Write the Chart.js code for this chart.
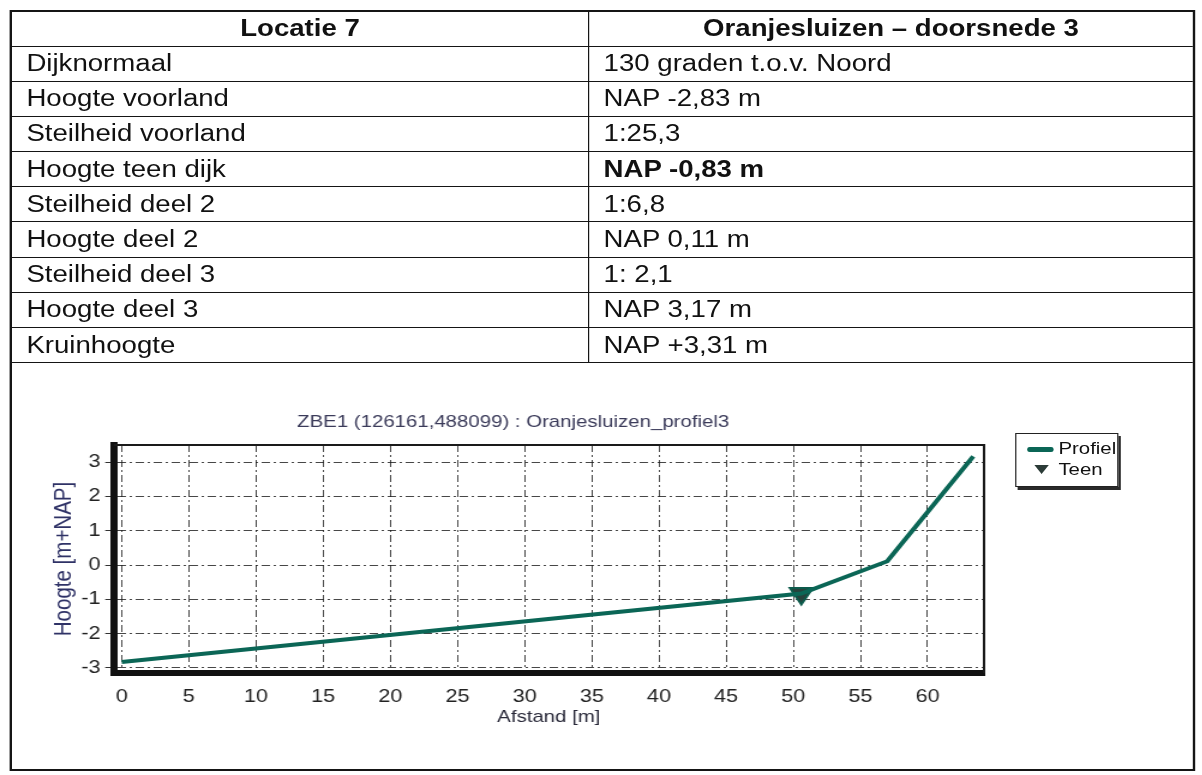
<!DOCTYPE html>
<html>
<head>
<meta charset="utf-8">
<script src="https://cdn.jsdelivr.net/npm/chart.js@4"></script>
<style>
  body { margin: 0; background: #fff; }
  /* the sheet is laid out narrow and stretched sideways like the printed page */
  #page {
    position: relative; width: 1001.7px; height: 775px;
    transform: scaleX(1.2); transform-origin: 0 0;
    font-family: "Liberation Sans", Arial, sans-serif; color: #111;
  }
  #frame {
    position: absolute; left: 8px; top: 10px; width: 988px; height: 761px;
    border: 2px solid #151515; box-sizing: border-box;
  }
  .row { display: flex; height: 35.2px; border-bottom: 1.5px solid #151515; box-sizing: border-box; font-size: 23px; }
  .row.head { height: 34.5px; font-weight: bold; }
  .cell { display: flex; align-items: center; box-sizing: border-box; padding-left: 12px; }
  .cell.c1 { width: 481px; border-right: 1.5px solid #151515; }
  .cell.c2 { flex: 1; }
  .head .cell { justify-content: center; padding-left: 0; }
  .bold { font-weight: bold; }
  #chartBox { position: absolute; left: 33.3px; top: 405px; width: 800px; height: 328px; }
  #legend {
    position: absolute; left: 846px; top: 433px; width: 86px; height: 54px;
    border: 1px solid #222; background: #fff; box-shadow: 2px 3px 0 #2a2a2a;
    font-size: 17px; box-sizing: border-box;
  }
  #legend .swatch { position: absolute; left: 9px; top: 13px; width: 22px; height: 5px; background: #0b6656; border-radius: 2px; }
  #legend .tri { position: absolute; left: 15px; top: 31px; width: 0; height: 0;
    border-left: 6px solid transparent; border-right: 6px solid transparent; border-top: 9px solid #2b3b37; }
  #legend .lbl { position: absolute; left: 35px; line-height: 20px; }
</style>
</head>
<body>
<div id="page">
  <div id="frame">
    <div class="row head"><div class="cell c1">Locatie 7</div><div class="cell c2">Oranjesluizen – doorsnede 3</div></div>
    <div id="rows"></div>
  </div>
  <div id="chartBox"><canvas id="profielChart"></canvas></div>
  <div id="legend">
    <div class="swatch"></div><div class="lbl" style="top:5px">Profiel</div>
    <div class="tri"></div><div class="lbl" style="top:26px">Teen</div>
  </div>
</div>

<script>
// Table contents
const rijLabels = ['Dijknormaal', 'Hoogte voorland', 'Steilheid voorland', 'Hoogte teen dijk',
  'Steilheid deel 2', 'Hoogte deel 2', 'Steilheid deel 3', 'Hoogte deel 3', 'Kruinhoogte'];
const rijWaarden = ['130 graden t.o.v. Noord', 'NAP -2,83 m', '1:25,3', 'NAP -0,83 m',
  '1:6,8', 'NAP 0,11 m', '1: 2,1', 'NAP 3,17 m', 'NAP +3,31 m'];
const vetRij = 3;

// Profile (distance in m, height in m+NAP)
const afstand = [0, 50.6, 57.0, 63.4];
const hoogte = [-2.83, -0.83, 0.11, 3.17];
const teenAfstand = [50.6];
const teenHoogte = [-0.83];

// Axis ticks
const afstandTicks = [0, 5, 10, 15, 20, 25, 30, 35, 40, 45, 50, 55, 60];
const hoogteTicks = [-3, -2, -1, 0, 1, 2, 3];

document.addEventListener('DOMContentLoaded', function() {
    buildTable();
    initializeProfileChart();
});

function buildTable() {
    const rows = document.getElementById('rows');
    rijLabels.forEach((label, i) => {
        const row = document.createElement('div');
        row.className = 'row';
        const c1 = document.createElement('div');
        c1.className = 'cell c1';
        c1.textContent = label;
        const c2 = document.createElement('div');
        c2.className = 'cell c2' + (i === vetRij ? ' bold' : '');
        c2.textContent = rijWaarden[i];
        row.appendChild(c1);
        row.appendChild(c2);
        rows.appendChild(row);
    });
}

// thin frame on the top and right side of the plot
const plotFrame = {
    id: 'plotFrame',
    afterDatasetsDraw(chart) {
        const {ctx, chartArea: a} = chart;
        ctx.save();
        ctx.strokeStyle = '#1a1a1a';
        ctx.lineWidth = 2;
        ctx.beginPath();
        ctx.moveTo(a.left, a.top);
        ctx.lineTo(a.right, a.top);
        ctx.lineTo(a.right, a.bottom);
        ctx.stroke();
        ctx.restore();
    }
};

function initializeProfileChart() {
    Chart.defaults.font.family = '"Liberation Sans", Arial, sans-serif';
    const ctx = document.getElementById('profielChart').getContext('2d');
    // dash-dot grid, thick axis line on the left and bottom
    const gridDash = [7, 3, 2, 3];
    const gridColor = 'rgba(25, 25, 25, 0.8)';

    new Chart(ctx, {
        type: 'line',
        data: {
            datasets: [{
                label: 'Profiel',
                data: afstand.map((x, i) => ({x: x, y: hoogte[i]})),
                borderColor: '#0b6656',
                borderWidth: 4,
                pointRadius: 0,
                fill: false,
                tension: 0
            }, {
                label: 'Teen',
                data: teenAfstand.map((x, i) => ({x: x, y: teenHoogte[i]})),
                showLine: false,
                pointStyle: 'triangle',
                rotation: 180,
                pointRadius: 11,
                backgroundColor: '#27423c',
                borderColor: '#0d5a4b',
                borderWidth: 2
            }]
        },
        options: {
            responsive: true,
            maintainAspectRatio: false,
            animation: false,
            layout: { padding: { right: 10.8 } },
            plugins: {
                legend: { display: false },
                tooltip: { enabled: false },
                title: {
                    display: true,
                    text: 'ZBE1 (126161,488099) : Oranjesluizen_profiel3',
                    color: '#3b3b5a',
                    font: { size: 17, weight: 'normal' },
                    padding: { top: 7, bottom: 12.6 }
                }
            },
            scales: {
                x: {
                    type: 'linear',
                    min: -0.6,
                    max: 64.2,
                    afterBuildTicks: s => { s.ticks = afstandTicks.map(v => ({value: v})); },
                    afterFit: s => { s.height = 60; },
                    grid: { drawTicks: false, color: gridColor, lineWidth: 1 },
                    border: { display: true, color: '#111', width: 6, dash: gridDash },
                    ticks: { color: '#222', font: { size: 18 }, padding: 13, maxRotation: 0 },
                    title: {
                        display: true,
                        text: 'Afstand [m]',
                        color: '#2a2a3a',
                        font: { size: 17 },
                        padding: { top: 0, bottom: 5 }
                    }
                },
                y: {
                    type: 'linear',
                    min: -3.15,
                    max: 3.5,
                    afterBuildTicks: s => { s.ticks = hoogteTicks.map(v => ({value: v})); },
                    afterFit: s => { s.width = 61.7; },
                    grid: { drawTicks: true, tickLength: 7, tickColor: '#333', color: gridColor, lineWidth: 1 },
                    border: { display: true, color: '#111', width: 6, dash: gridDash },
                    ticks: { color: '#222', font: { size: 18 }, padding: 4 },
                    title: {
                        display: true,
                        text: 'Hoogte [m+NAP]',
                        color: '#2f3266',
                        font: { size: 20.5 },
                        padding: { top: 8, bottom: 0 }
                    }
                }
            }
        },
        plugins: [plotFrame]
    });
}
</script>
</body>
</html>
